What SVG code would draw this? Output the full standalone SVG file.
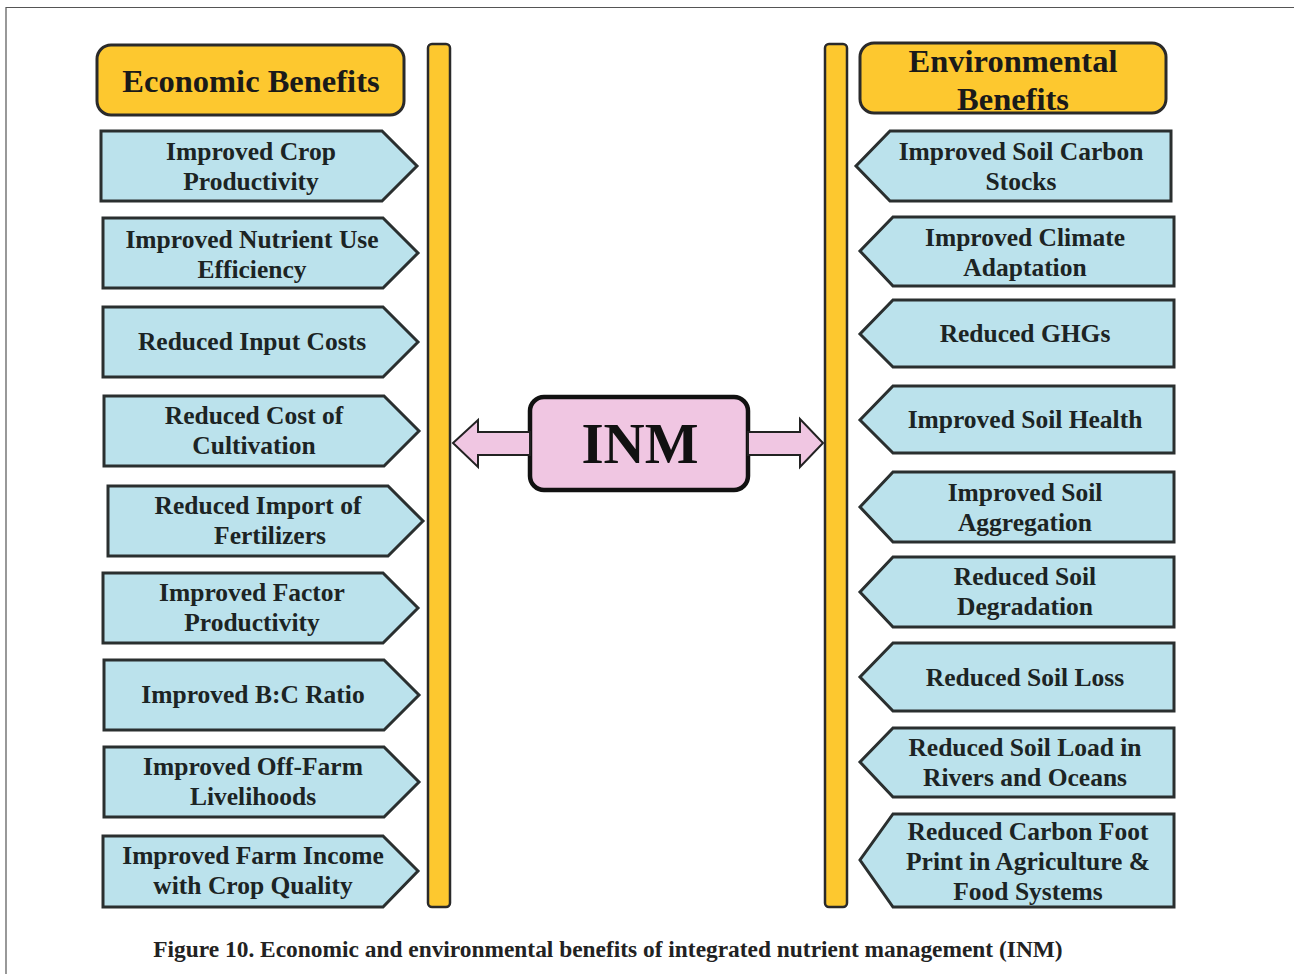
<svg xmlns="http://www.w3.org/2000/svg" width="1294" height="974" viewBox="0 0 1294 974">
<style>
.frame{fill:none;stroke:#555;stroke-width:1.2}
.bar{fill:#FDC82F;stroke:#2a2a2a;stroke-width:2.5}
.hdr{fill:#FDC82F;stroke:#2a2a2a;stroke-width:3}
.box{fill:#BBE2EC;stroke:#2a2f2f;stroke-width:3}
.inm{fill:#F0C6E2;stroke:#111;stroke-width:4.5}
.arr{fill:#F0C6E2;stroke:#222;stroke-width:2}
.t{font-family:"Liberation Serif","Times New Roman",serif;font-weight:bold;font-size:25.5px;fill:#1c2424;text-anchor:middle}
.h{font-family:"Liberation Serif","Times New Roman",serif;font-weight:bold;font-size:32.5px;fill:#1a1a1a;text-anchor:middle}
.big{font-family:"Liberation Serif","Times New Roman",serif;font-weight:bold;font-size:57px;fill:#111;text-anchor:middle}
.cap{font-family:"Liberation Serif","Times New Roman",serif;font-weight:bold;font-size:23.4px;fill:#222;text-anchor:middle}
</style>
<rect width="1294" height="974" fill="#fff"/>
<path class="frame" d="M6 974 V7.5 H1294"/>

<g id="bar-left"><rect class="bar" x="428" y="44" width="22" height="863" rx="4"/></g>
<g id="bar-right"><rect class="bar" x="825" y="44" width="22" height="863" rx="4"/></g>

<g id="hdr-economic">
<rect class="hdr" x="97" y="45" width="307" height="70" rx="14"/>
<text class="h" x="251" y="92">Economic Benefits</text>
</g>
<g id="hdr-environmental">
<rect class="hdr" x="860" y="43" width="306" height="70" rx="14"/>
<text class="h" x="1013" y="72">Environmental</text>
<text class="h" x="1013" y="110">Benefits</text>
</g>

<g id="inm">
<rect class="inm" x="530" y="397" width="218" height="93" rx="14"/>
<text class="big" x="640" y="463">INM</text>
</g>

<g id="connectors">
<path class="arr" d="M530 432 H478 V420 L453 443 L478 467 V455 H530 Z"/>
<path class="arr" d="M748 432 H800 V419 L823 443 L800 467 V455 H748 Z"/>
</g>

<g id="e1"><path class="box" d="M101 131 H382 L417 166 L382 201 H101 Z"/><text class="t" x="251" y="160">Improved Crop</text><text class="t" x="251" y="190">Productivity</text></g>
<g id="e2"><path class="box" d="M103 218 H383 L418 253 L383 288 H103 Z"/><text class="t" x="252" y="248">Improved Nutrient Use</text><text class="t" x="252" y="278">Efficiency</text></g>
<g id="e3"><path class="box" d="M103 307 H383 L418 342 L383 377 H103 Z"/><text class="t" x="252" y="350">Reduced Input Costs</text></g>
<g id="e4"><path class="box" d="M104 396 H384 L419 431 L384 466 H104 Z"/><text class="t" x="254" y="424">Reduced Cost of</text><text class="t" x="254" y="454">Cultivation</text></g>
<g id="e5"><path class="box" d="M108 486 H388 L423 521 L388 556 H108 Z"/><text class="t" x="258" y="514">Reduced Import of</text><text class="t" x="270" y="544">Fertilizers</text></g>
<g id="e6"><path class="box" d="M103 573 H383 L418 608 L383 643 H103 Z"/><text class="t" x="252" y="601">Improved Factor</text><text class="t" x="252" y="631">Productivity</text></g>
<g id="e7"><path class="box" d="M104 660 H384 L419 695 L384 730 H104 Z"/><text class="t" x="253" y="703">Improved B:C Ratio</text></g>
<g id="e8"><path class="box" d="M104 747 H384 L419 782 L384 817 H104 Z"/><text class="t" x="253" y="775">Improved Off-Farm</text><text class="t" x="253" y="805">Livelihoods</text></g>
<g id="e9"><path class="box" d="M103 836 H383 L418 871 L383 907 H103 Z"/><text class="t" x="253" y="864">Improved Farm Income</text><text class="t" x="253" y="894">with Crop Quality</text></g>

<g id="v1"><path class="box" d="M1171 131 H890 L856 166 L890 201 H1171 Z"/><text class="t" x="1021" y="160">Improved Soil Carbon</text><text class="t" x="1021" y="190">Stocks</text></g>
<g id="v2"><path class="box" d="M1174 217 H893 L860 251 L893 286 H1174 Z"/><text class="t" x="1025" y="246">Improved Climate</text><text class="t" x="1025" y="276">Adaptation</text></g>
<g id="v3"><path class="box" d="M1174 300 H893 L860 334 L893 367 H1174 Z"/><text class="t" x="1025" y="342">Reduced GHGs</text></g>
<g id="v4"><path class="box" d="M1174 386 H893 L860 420 L893 453 H1174 Z"/><text class="t" x="1025" y="428">Improved Soil Health</text></g>
<g id="v5"><path class="box" d="M1174 472 H893 L860 507 L893 542 H1174 Z"/><text class="t" x="1025" y="501">Improved Soil</text><text class="t" x="1025" y="531">Aggregation</text></g>
<g id="v6"><path class="box" d="M1174 557 H893 L860 592 L893 627 H1174 Z"/><text class="t" x="1025" y="585">Reduced Soil</text><text class="t" x="1025" y="615">Degradation</text></g>
<g id="v7"><path class="box" d="M1174 643 H893 L860 677 L893 711 H1174 Z"/><text class="t" x="1025" y="686">Reduced Soil Loss</text></g>
<g id="v8"><path class="box" d="M1174 728 H893 L860 762 L893 797 H1174 Z"/><text class="t" x="1025" y="756">Reduced Soil Load in</text><text class="t" x="1025" y="786">Rivers and Oceans</text></g>
<g id="v9"><path class="box" d="M1174 814 H893 L860 860 L893 907 H1174 Z"/><text class="t" x="1028" y="840">Reduced Carbon Foot</text><text class="t" x="1028" y="870">Print in Agriculture &amp;</text><text class="t" x="1028" y="900">Food Systems</text></g>

<text class="cap" x="608" y="957">Figure 10. Economic and environmental benefits of integrated nutrient management (INM)</text>
</svg>
